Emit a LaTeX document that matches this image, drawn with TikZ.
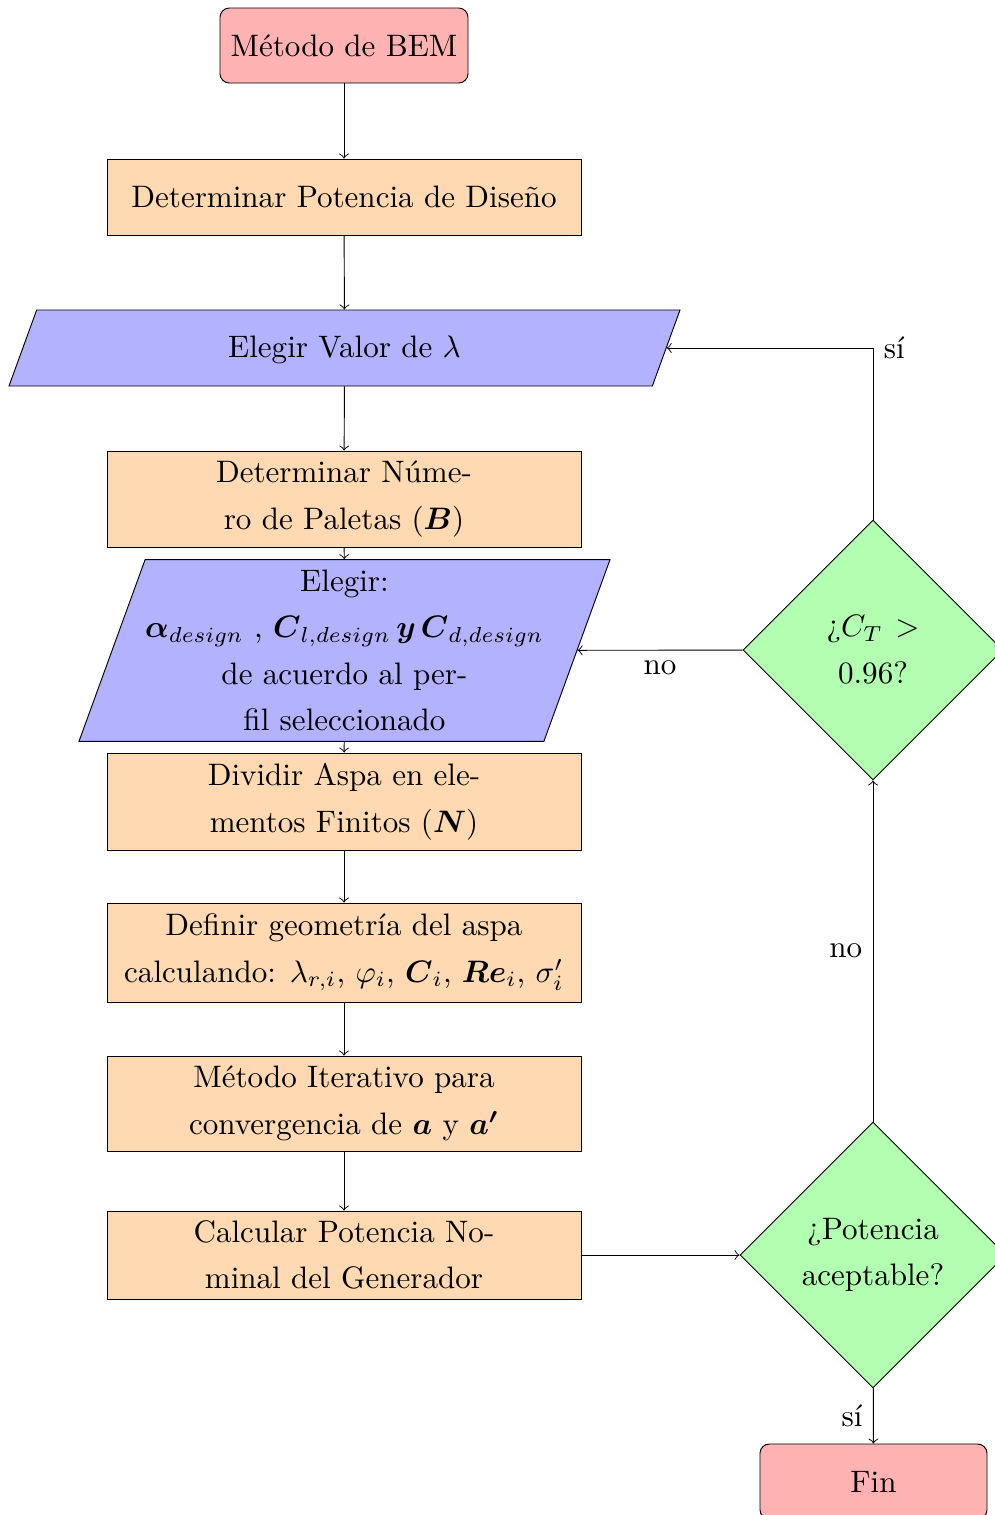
\documentclass[tikz,border=0pt]{standalone}
\usepackage{amsmath,amsbsy}
\usetikzlibrary{shapes.geometric}
\newdimen\pxu \pxu=0.322pt
\tikzset{
  base/.style={draw, line width=0.3pt, align=center, font=\linespread{1.25}\selectfont, inner sep=0pt},
  startstop/.style={base, rectangle, rounded corners=3pt, fill=red!30, minimum width=248\pxu, minimum height=75\pxu},
  process/.style={base, rectangle, fill=orange!30, minimum width=474\pxu},
  io/.style={base, trapezium, trapezium left angle=70, trapezium right angle=110, trapezium stretches body, fill=blue!30},
  decision/.style={base, diamond, fill=green!30},
  arr/.style={->, line width=0.3pt},
  lbl/.style={inner sep=3.33pt}
}
\begin{document}
\begin{tikzpicture}[x=0.322pt, y=-0.322pt]
\useasboundingbox (0,0) rectangle (995,1515);
\node[startstop] (start) at (344,45.5) {Método de BEM};
\node[process, minimum height=76\pxu] (p1) at (344,197) {Determinar Potencia de Diseño};
\node[io, minimum width=671\pxu, text height=47\pxu, text depth=29\pxu] (io1) at (344.5,348) {Elegir Valor de $\lambda$};
\node[process, minimum height=96\pxu] (p2) at (344,499) {Determinar Núme-\\ro de Paletas ($\boldsymbol{B}$)};
\node[io, minimum width=531\pxu, inner ysep=10\pxu] (io2) at (344.5,650.5) {Elegir:\\$\boldsymbol{\alpha}_{design}$ , $\boldsymbol{C}_{l,design}\,\boldsymbol{y}\,\boldsymbol{C}_{d,design}$\\de acuerdo al per-\\fil seleccionado};
\node[process, minimum height=97\pxu] (p3) at (344,801.5) {Dividir Aspa en ele-\\mentos Finitos ($\boldsymbol{N}$)};
\node[process, minimum height=99\pxu] (p4) at (344,952.5) {Definir geometría del aspa\\calculando: $\lambda_{r,i}$, $\varphi_i$, $\boldsymbol{C}_i$, $\boldsymbol{Re}_i$, $\sigma'_i$};
\node[process, minimum height=95\pxu] (p5) at (344,1103.5) {Método Iterativo para\\convergencia de $\boldsymbol{a}$ y $\boldsymbol{a'}$};
\node[process, minimum height=88\pxu] (p6) at (344,1255) {Calcular Potencia No-\\minal del Generador};
\node[decision, minimum width=260\pxu, minimum height=260\pxu] (d1) at (873,650) {¿$C_T$\hspace{4pt}$>$\\0.96?};
\node[decision, minimum width=266\pxu, minimum height=266\pxu] (d2) at (873,1255) {¿Potencia\\aceptable?};
\node[startstop, minimum width=227\pxu] (fin) at (873.5,1481.5) {Fin};
\draw[arr] (start) -- (p1);
\draw[arr] (p1) -- (io1);
\draw[arr] (io1) -- (p2);
\draw[arr] (p2) -- (io2);
\draw[arr] (io2) -- (p3);
\draw[arr] (p3) -- (p4);
\draw[arr] (p4) -- (p5);
\draw[arr] (p5) -- (p6);
\draw[arr] (p6) -- (d2);
\draw[arr] (d2) -- node[lbl, left] {sí} (fin);
\draw[arr] (d2) -- node[lbl, left] {no} (d1);
\draw[arr] (d1) -- node[lbl, below] {no} (io2);
\draw[arr] (d1.north) |- node[lbl, pos=0.5, right] {sí} (io1);
\end{tikzpicture}
\end{document}
